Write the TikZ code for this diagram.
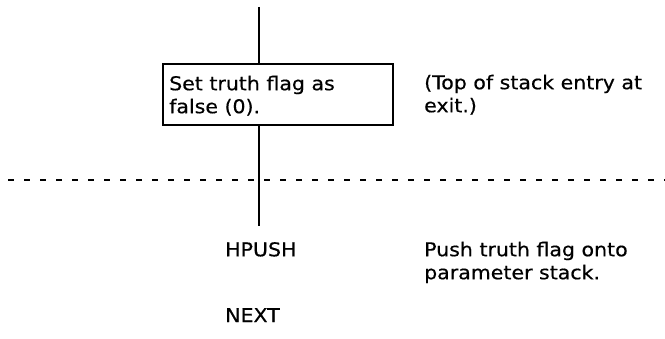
\documentclass[tikz,border=0pt]{standalone}
\usepackage{fontspec}
\setmainfont{DejaVu Sans}[FakeStretch=1.08,FakeBold=0.5]
\begin{document}
\begin{tikzpicture}[x=1pt,y=-1pt,
  txt/.style={font=\fontsize{19}{23}\selectfont, inner sep=0pt, anchor=north west, align=left},
  flowline/.style={line width=1.9pt},
  procbox/.style={draw, line width=1.9pt, minimum width=230pt, minimum height=61pt, anchor=north west, inner sep=0pt},
  sep/.style={line width=1.9pt, dash pattern=on 6pt off 10pt}]
\useasboundingbox (0,0) rectangle (665,339);
\coordinate (top) at (259,7);
\node[procbox] (box) at (162,63) {};
\node[txt] (boxtxt) at (169,75.6) {Set truth flag as\\false (0).};
\node[txt] (note) at (424,74.6) {(Top of stack entry at\\exit.)};
\coordinate (bot) at (259,226);
\draw[flowline] (top) -- (box.north -| top);
\draw[flowline] (box.south -| top) -- (bot);
\coordinate (dl) at (8,180);
\coordinate (dr) at (665,180);
\draw[sep] (dl) -- (dr);
\node[txt] (hpush) at (225,242) {HPUSH};
\node[txt] (pushnote) at (424,241.6) {Push truth flag onto\\parameter stack.};
\node[txt] (next) at (225,308) {NEXT};
\end{tikzpicture}
\end{document}
